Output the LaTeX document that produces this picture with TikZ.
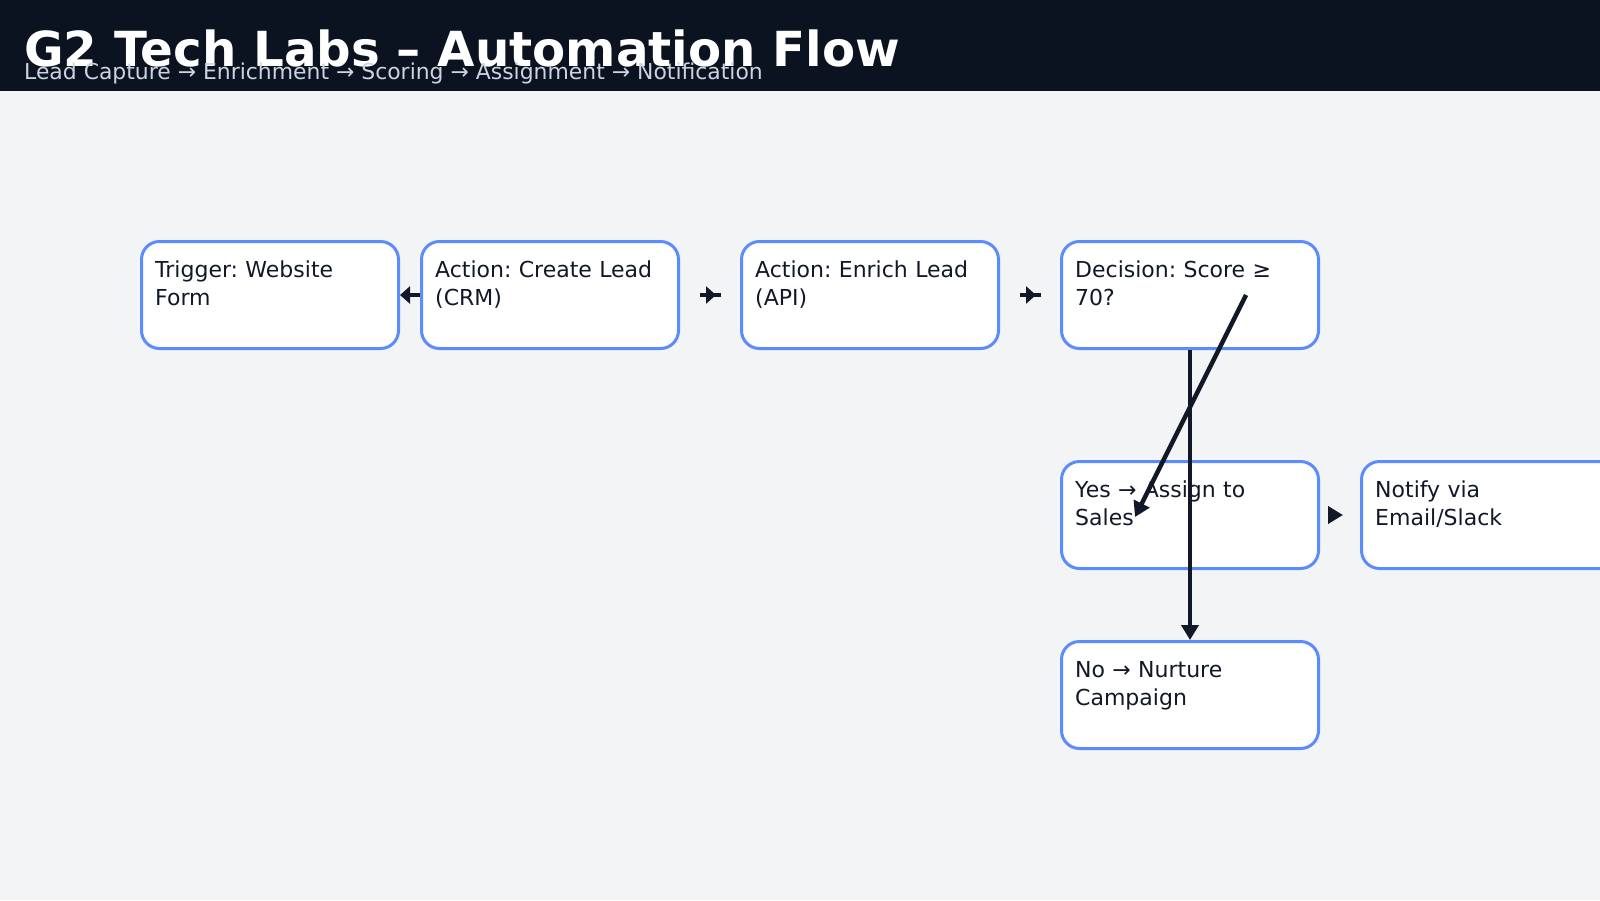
\documentclass[tikz,border=0pt]{standalone}
\usepackage{fontspec}
\setmainfont{DejaVu Sans}
\usetikzlibrary{arrows.meta,positioning}
\frenchspacing

\definecolor{pagebg}{HTML}{F3F4F6}
\definecolor{headbg}{HTML}{0B1220}
\definecolor{subtext}{HTML}{CBD5E1}
\definecolor{boxblue}{HTML}{5B8CFF}
\definecolor{ink}{HTML}{111827}

\begin{document}
\begin{tikzpicture}[x=1pt,y=-1pt,
    box/.style={draw=boxblue,line width=3pt,fill=white,rounded corners=18pt,
      minimum width=257pt,minimum height=107pt,anchor=north west,inner sep=0pt},
    boxtext/.style={anchor=north west,inner sep=0pt,text width=235pt,align=left,
      text=ink,font=\fontsize{22}{27.5}\selectfont},
    link/.style={draw=ink,line width=4.5pt},
    flow/.style={link,-{Triangle[length=15pt,width=17pt]}},
    shortflow/.style={link,-{Triangle[length=10pt,width=17pt]}}]

        \clip (0,0) rectangle (1600,900);
        \fill[pagebg] (0,0) rectangle (1600,900);
        \fill[headbg] (0,0) rectangle (1600,91);

        \node[anchor=base west,inner sep=0pt,text=white,
          font=\fontsize{48.3}{48}\selectfont\bfseries] (title) at (24,66)
          {G2 Tech Labs – Automation Flow};
        \node[anchor=base west,inner sep=0pt,text=subtext,
          font=\fontsize{21.9}{26}\selectfont] (subtitle) at (24,79)
          {Lead Capture → Enrichment → Scoring → Assignment → Notification};

        % steps
        \begin{scope}[every node/.style={box}]
          \node (trigger) at (140,240)  {};
          \node (create)  at (420,240)  {};
          \node (enrich)  at (740,240)  {};
          \node (decide)  at (1060,240) {};
          \node (yes)     at (1060,460) {};
          \node (notify)  at (1360,460) {};
          \node (no)      at (1060,640) {};
        \end{scope}

        \begin{scope}[every node/.style={boxtext}]
          \node (trigger-t) at ([xshift=15pt,yshift=-18.4pt]trigger.north west) {\strut Trigger: Website\\Form};
          \node (create-t)  at ([xshift=15pt,yshift=-18.4pt]create.north west)  {\strut Action: Create Lead\\(CRM)};
          \node (enrich-t)  at ([xshift=15pt,yshift=-18.4pt]enrich.north west)  {\strut Action: Enrich Lead\\(API)};
          \node (decide-t)  at ([xshift=15pt,yshift=-18.4pt]decide.north west)  {\strut Decision: Score ≥\\70?};
          \node (yes-t)     at ([xshift=15pt,yshift=-18.4pt]yes.north west)     {\strut Yes → Assign to\\Sales};
          \node (notify-t)  at ([xshift=15pt,yshift=-18.4pt]notify.north west)  {\strut Notify via\\Email/Slack};
          \node (no-t)      at ([xshift=15pt,yshift=-18.4pt]no.north west)      {\strut No → Nurture\\Campaign};
        \end{scope}

        % connectors
        \coordinate (ce-a) at ([xshift=20pt]create.east);
        \coordinate (ce-b) at ([xshift=-19pt]enrich.west);
        \coordinate (ce-t) at ([xshift=-24pt]enrich.west);
        \coordinate (ed-a) at ([xshift=20pt]enrich.east);
        \coordinate (ed-b) at ([xshift=-19pt]decide.west);
        \coordinate (ed-t) at ([xshift=-24pt]decide.west);
        \coordinate (dy-a) at ([xshift=186pt,yshift=-55pt]decide.north west);
        \coordinate (dy-b) at ([xshift=75pt,yshift=-57pt]yes.north west);
        \coordinate (yn-a) at ([xshift=8pt]yes.east);
        \coordinate (yn-b) at ([xshift=23pt]yes.east);

        \draw[shortflow] (create) -- (trigger);
        \draw[link] (ce-a) -- (ce-b);
        \draw[shortflow] (ce-a) -- (ce-t);
        \draw[link] (ed-a) -- (ed-b);
        \draw[shortflow] (ed-a) -- (ed-t);
        \draw[flow] (dy-a) -- (dy-b);
        \draw[flow] (decide.south) -- (no.north);
        \draw[flow] (yn-a) -- (yn-b);

      \end{tikzpicture}
\end{document}
